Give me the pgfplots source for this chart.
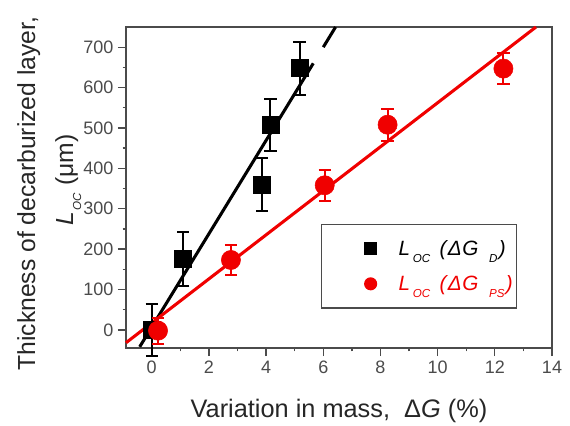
\documentclass[border=0pt]{standalone}
\usepackage{pgfplots}
\pgfplotsset{compat=1.18}
\usepackage{fontspec}
\setmainfont{Liberation Sans}
\definecolor{fitred}{RGB}{240,0,0}
\definecolor{axgray}{RGB}{75,75,75}
% lowered small subscript, as in the original figure
\newcommand{\lsub}[2][5.25pt]{\raisebox{-#1}{\fontsize{8.7}{10}\selectfont\textit{#2}}}
\newcommand{\legtext}[1]{\textit{L}\kern2pt\lsub{OC}\kern7pt\textit{(\kern1pt Δ\kern0.5pt G}\kern8pt\lsub{#1}\kern1pt\textit{)}}

\begin{document}
\begin{tikzpicture}
\begin{axis}[
    scale only axis,
    width=319.5pt, height=240.75pt,
    xmin=-0.9, xmax=14,
    ymin=-45, ymax=750,
    xtick={0,2,...,14},
    ytick={0,100,...,700},
    minor x tick num=1,
    minor y tick num=1,
    tick align=outside,
    xtick pos=bottom, ytick pos=left,
    major tick length=6pt, minor tick length=2.5pt,
    axis line style={axgray, line width=1pt},
    tick style={axgray, line width=1pt},
    every tick label/.append style={font=\fontsize{13.5}{15}\selectfont, text=axgray},
    /pgf/number format/assume math mode=true,
    xlabel={Variation in mass,\ \ Δ\textit{G} (\%)},
    ylabel={Thickness of decarburized layer,\\ \hspace*{20pt}\textit{L}\kern1.5pt\lsub[6pt]{OC}\kern5pt(μm)},
    xlabel style={font=\fontsize{19}{21}\selectfont, text=black!85,
        at={(axis description cs:0.5,0)}, anchor=base, yshift=-51.75pt},
    ylabel style={font=\fontsize{18.5}{28.5}\selectfont, text=black!85, align=center,
        at={(axis description cs:-0.18,0.481)}, anchor=center},
    legend style={at={(axis description cs:0.4577,0.3863)}, anchor=north west,
        draw=axgray, line width=1pt, font=\fontsize{15.5}{17}\selectfont,
        inner xsep=0pt, inner ysep=5pt, row sep=0pt, column sep=0pt,
        nodes={inner sep=0pt, minimum height=26.25pt}},
    legend cell align=left,
    legend image code/.code={
        \path[draw=none, fill=none] (0pt,0pt) rectangle (57.75pt,0.1pt);
        \draw[mark size=4.4pt] plot coordinates {(36.75pt,0pt)};},
    clip=false,
]
% fit lines
\addplot[black, line width=2.3pt, forget plot] coordinates {(-0.42,-42) (5.65,660)};
\addplot[black, line width=2.3pt, forget plot] coordinates {(6.0,700) (6.43,750)};
\addplot[fitred, line width=2.3pt, forget plot] coordinates {(-0.9,-32) (13.44,750)};

% L_OC (dG_D)
\addplot[only marks, mark=square*, mark size=6.4pt, black,
    error bars/.cd, y dir=both, y explicit,
    error mark options={rotate=90, mark size=4.6pt, line width=1.5pt},
    error bar style={line width=1.5pt}]
coordinates {
    (0.0,0) +- (0,65)
    (1.1,175) +- (0,67)
    (3.85,360) +- (0,65)
    (4.15,507) +- (0,65)
    (5.17,648) +- (0,66)
};
\addlegendentry{\legtext{D}}

% L_OC (dG_PS)
\addplot[only marks, mark=*, mark size=7.2pt, fitred,
    error bars/.cd, y dir=both, y explicit,
    error mark options={rotate=90, mark size=4.6pt, line width=1.5pt},
    error bar style={line width=1.5pt}]
coordinates {
    (0.22,-2) +- (0,32)
    (2.77,173) +- (0,38)
    (6.05,358) +- (0,38)
    (8.25,508) +- (0,40)
    (12.3,647) +- (0,38)
};
\addlegendentry{\textcolor{fitred}{\legtext{PS}}\hspace*{3pt}}
\end{axis}
\pgfresetboundingbox
\path (current axis.south west) ++(-94.5pt,-57.75pt);
\path (current axis.north east) ++(13.5pt,20.25pt);
\end{tikzpicture}
\end{document}
